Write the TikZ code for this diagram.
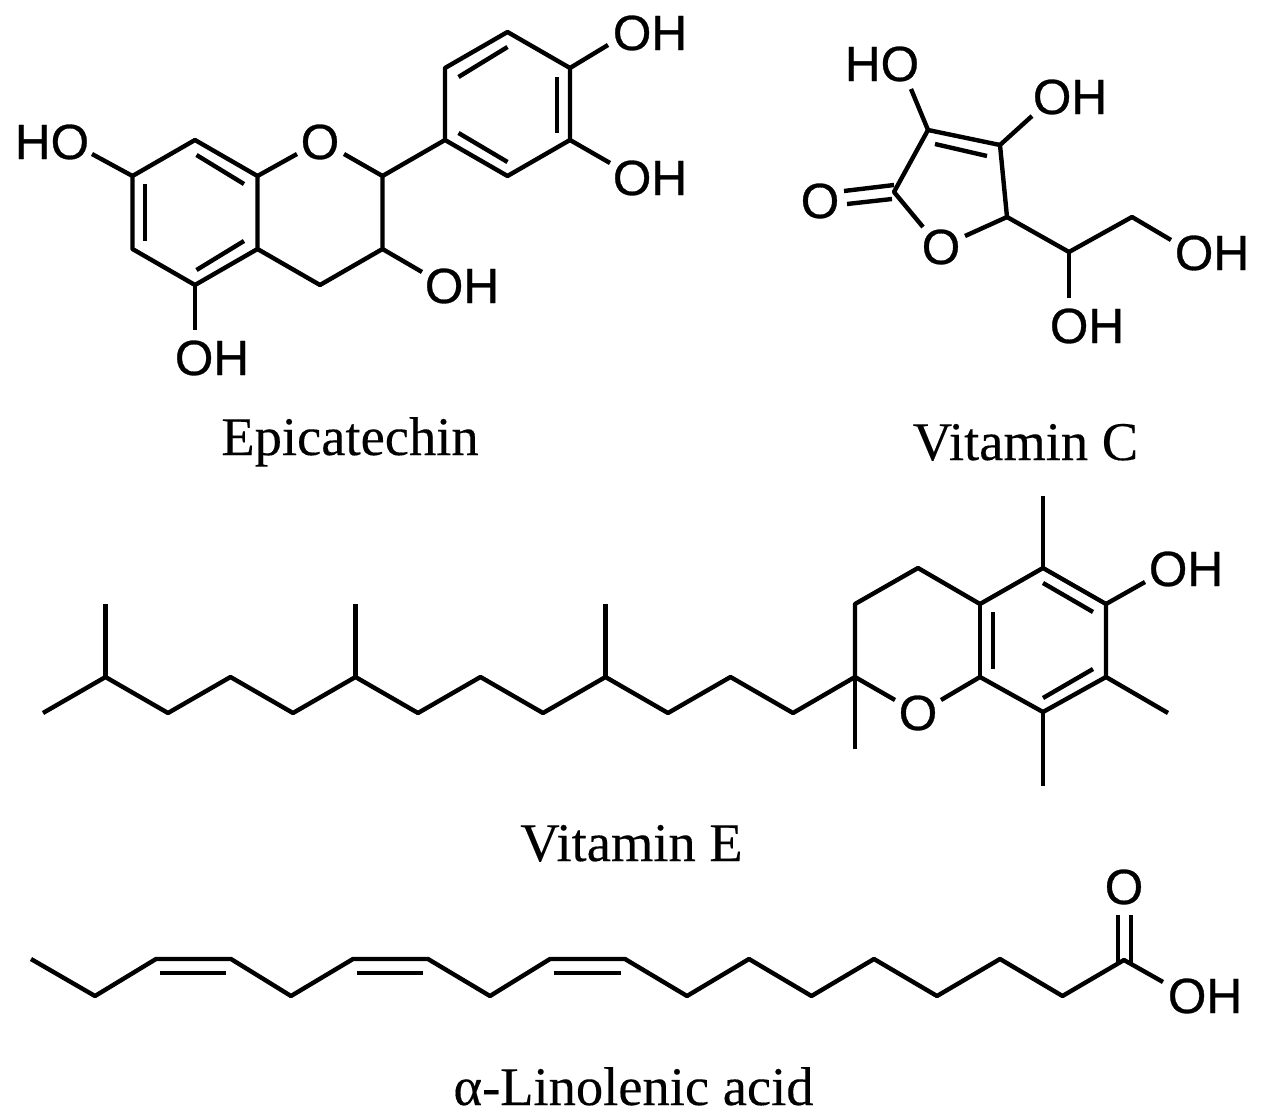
\documentclass[tikz,border=0pt]{standalone}
\usepackage{fontspec}
\setmainfont{Liberation Serif}[FakeBold=0.25]
\newfontfamily\atomfont{Liberation Sans}[FakeBold=0.6]
\tikzset{
  bond/.style={line width=4.4pt,line join=round,black},
  atom/.style={inner sep=0pt,anchor=center,font=\atomfont\fontsize{49.5}{50}\selectfont},
  caption/.style={inner sep=0pt,anchor=base,font=\fontsize{54.5}{55}\selectfont},
}
\begin{document}
\begin{tikzpicture}[x=1pt,y=-1pt]
\useasboundingbox (0,0) rectangle (1264,1119);
% ---------- Epicatechin
\node[atom] (eO) at (320,142) {O};
\node[atom] (eHO7) at (52,142) {HO};
\node[atom] (eOH5) at (212,358) {OH};
\node[atom] (eOH3) at (462,286) {OH};
\node[atom] (eOH4p) at (650,33) {OH};
\node[atom] (eOH3p) at (650,178) {OH};
\node[caption] (eName) at (350,455) {Epicatechin};
\coordinate (a1) at (195,140); \coordinate (a2) at (257.5,176);
\coordinate (a3) at (257.5,249); \coordinate (a4) at (195,285);
\coordinate (a5) at (132.5,249); \coordinate (a6) at (132.5,176);
\coordinate (c2) at (382.5,176); \coordinate (c3) at (382.5,249); \coordinate (c4) at (320,285);
\coordinate (b1) at (445,140); \coordinate (b2) at (445,68); \coordinate (b3) at (507.5,32);
\coordinate (b4) at (570,68); \coordinate (b5) at (570,140); \coordinate (b6) at (507.5,176);
\coordinate (eO1) at (297,154); \coordinate (eO2) at (344,154);
\coordinate (eH7) at (92,154); \coordinate (eH5) at (195,330); \coordinate (eH3) at (422,272);
\coordinate (eH4p) at (608,45); \coordinate (eH3p) at (610,163);
\coordinate (i1a) at (196.5,155); \coordinate (i1b) at (244,184);
\coordinate (i2a) at (244,241); \coordinate (i2b) at (196.5,270);
\coordinate (i3a) at (145,184); \coordinate (i3b) at (145,241);
\coordinate (i4a) at (458.5,77); \coordinate (i4b) at (507.5,47);
\coordinate (i5a) at (557,77); \coordinate (i5b) at (557,133);
\coordinate (i6a) at (458.5,133); \coordinate (i6b) at (507.5,162);
\draw[bond] (eO1) -- (a2) -- (a1) -- (a6) -- (a5) -- (a4) -- (a3) -- (a2);
\draw[bond] (a3) -- (c4) -- (c3) -- (c2) -- (eO2);
\draw[bond] (c2) -- (b1) -- (b2) -- (b3) -- (b4) -- (b5) -- (b6) -- (b1);
\draw[bond] (a6) -- (eH7); \draw[bond] (a4) -- (eH5); \draw[bond] (c3) -- (eH3);
\draw[bond] (b4) -- (eH4p); \draw[bond] (b5) -- (eH3p);
\draw[bond] (i1a) -- (i1b); \draw[bond] (i2a) -- (i2b); \draw[bond] (i3a) -- (i3b);
\draw[bond] (i4a) -- (i4b); \draw[bond] (i5a) -- (i5b); \draw[bond] (i6a) -- (i6b);
% ---------- Vitamin C
\node[atom] (cHO) at (882,64) {HO};
\node[atom] (cOH1) at (1070,97) {OH};
\node[atom] (cOr) at (941,247) {O};
\node[atom] (cOd) at (820,201) {O};
\node[atom] (cOH2) at (1212,253) {OH};
\node[atom] (cOH3) at (1087,326) {OH};
\node[caption] (cName) at (1025.5,460) {Vitamin C};
\coordinate (v1) at (894,192); \coordinate (v2) at (928,130); \coordinate (v3) at (1000,145);
\coordinate (v4) at (1007,217); \coordinate (v5) at (1069,252); \coordinate (v6) at (1132,217);
\coordinate (vO1) at (923,227); \coordinate (vO2) at (965,236);
\coordinate (vH1) at (911,89); \coordinate (vH2) at (1032,116);
\coordinate (vH3) at (1171,240); \coordinate (vH4) at (1069,298);
\coordinate (vi1) at (935,144); \coordinate (vi2) at (987,156);
\coordinate (vd1a) at (894,185); \coordinate (vd1b) at (844,191);
\coordinate (vd2a) at (892,199); \coordinate (vd2b) at (847,204);
\draw[bond] (vO1) -- (v1) -- (v2) -- (v3) -- (v4) -- (vO2);
\draw[bond] (v4) -- (v5) -- (v6) -- (vH3);
\draw[bond] (v2) -- (vH1); \draw[bond] (v3) -- (vH2); \draw[bond] (v5) -- (vH4);
\draw[bond] (vi1) -- (vi2); \draw[bond] (vd1a) -- (vd1b); \draw[bond] (vd2a) -- (vd2b);
% ---------- Vitamin E
\node[atom] (tO) at (918,713) {O};
\node[atom] (tOH) at (1186,569) {OH};
\node[caption] (tName) at (631.5,861) {Vitamin E};
\coordinate (t2) at (855,677); \coordinate (t3) at (855,604); \coordinate (t4) at (918,568);
\coordinate (t4a) at (980,604); \coordinate (t5) at (1043,568); \coordinate (t6) at (1106,604);
\coordinate (t7) at (1106,677); \coordinate (t8) at (1043,712); \coordinate (t8a) at (980,677);
\coordinate (tO1) at (895,700); \coordinate (tO2) at (941,700);
\coordinate (tm2) at (855,749); \coordinate (tm5) at (1043,496); \coordinate (tm8) at (1043,786);
\coordinate (tm7) at (1168,713); \coordinate (tH) at (1145,582);
\coordinate (ti1a) at (993,612); \coordinate (ti1b) at (993,669);
\coordinate (ti2a) at (1043,583); \coordinate (ti2b) at (1093,612);
\coordinate (ti3a) at (1093,669); \coordinate (ti3b) at (1043,698);
\coordinate (s1) at (793,713); \coordinate (s2) at (730.5,677); \coordinate (s3) at (668,713);
\coordinate (s4) at (605.5,677); \coordinate (s5) at (543,713); \coordinate (s6) at (480.5,677);
\coordinate (s7) at (418,713); \coordinate (s8) at (355.5,677); \coordinate (s9) at (293,713);
\coordinate (s10) at (230.5,677); \coordinate (s11) at (168,713); \coordinate (s12) at (105.5,677);
\coordinate (s13) at (43,713);
\coordinate (sm4) at (605.5,604); \coordinate (sm8) at (355.5,604); \coordinate (sm12) at (105.5,604);
\draw[bond] (tO1) -- (t2) -- (t3) -- (t4) -- (t4a) -- (t5) -- (t6) -- (t7) -- (t8) -- (t8a) -- (tO2);
\draw[bond] (t4a) -- (t8a);
\draw[bond] (t2) -- (tm2); \draw[bond] (t5) -- (tm5); \draw[bond] (t8) -- (tm8);
\draw[bond] (t7) -- (tm7); \draw[bond] (t6) -- (tH);
\draw[bond] (ti1a) -- (ti1b); \draw[bond] (ti2a) -- (ti2b); \draw[bond] (ti3a) -- (ti3b);
\draw[bond] (t2) -- (s1) -- (s2) -- (s3) -- (s4) -- (s5) -- (s6) -- (s7) -- (s8) -- (s9) -- (s10) -- (s11) -- (s12) -- (s13);
\draw[bond] (s4) -- (sm4); \draw[bond] (s8) -- (sm8); \draw[bond] (s12) -- (sm12);
% ---------- alpha-Linolenic acid
\node[atom] (lO) at (1124,887) {O};
\node[atom] (lOH) at (1205,996) {OH};
\node[caption] (lName) at (633.5,1105) {α-Linolenic acid};
\coordinate (l1) at (31,959); \coordinate (l2) at (95,996); \coordinate (l3) at (156,959);
\coordinate (l4) at (231,959); \coordinate (l5) at (291,996); \coordinate (l6) at (353,959);
\coordinate (l7) at (428,959); \coordinate (l8) at (490,996); \coordinate (l9) at (550,959);
\coordinate (l10) at (625,959); \coordinate (l11) at (687,996); \coordinate (l12) at (749,959);
\coordinate (l13) at (811.5,996); \coordinate (l14) at (874,959); \coordinate (l15) at (937,996);
\coordinate (l16) at (1000,959); \coordinate (l17) at (1062.5,996); \coordinate (l18) at (1124,960);
\coordinate (lH) at (1163,982);
\coordinate (ld1a) at (1118,915); \coordinate (ld1b) at (1118,964);
\coordinate (ld2a) at (1131,915); \coordinate (ld2b) at (1131,964);
\coordinate (li1a) at (160,973); \coordinate (li1b) at (225.5,973);
\coordinate (li2a) at (357,973); \coordinate (li2b) at (423,973);
\coordinate (li3a) at (553.5,973); \coordinate (li3b) at (620.5,973);
\draw[bond] (l1) -- (l2) -- (l3) -- (l4) -- (l5) -- (l6) -- (l7) -- (l8) -- (l9) -- (l10) -- (l11) -- (l12) -- (l13) -- (l14) -- (l15) -- (l16) -- (l17) -- (l18) -- (lH);
\draw[bond] (ld1a) -- (ld1b); \draw[bond] (ld2a) -- (ld2b);
\draw[bond] (li1a) -- (li1b); \draw[bond] (li2a) -- (li2b); \draw[bond] (li3a) -- (li3b);
\end{tikzpicture}
\end{document}
